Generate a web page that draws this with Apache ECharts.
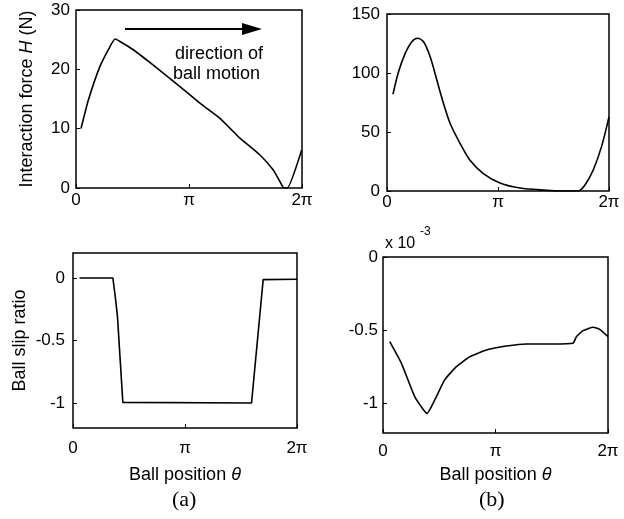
<!DOCTYPE html>
<html>
<head>
<meta charset="utf-8">
<script src="https://cdn.jsdelivr.net/npm/echarts@6/dist/echarts.min.js"></script>
<style>html,body{margin:0;padding:0;background:#fff;}#c{width:624px;height:519px;}</style>
</head>
<body>
<div id="c"></div>
<script>
// x positions are in units of pi (0..2 => 0..2π)
const xTickLabels = {0: '0', 1: 'π', 2: '2π'};

const forceA_x = [0.044,0.109,0.212,0.30,0.345,0.389,0.507,0.684,0.92,1.097,1.274,1.451,1.628,1.746,1.805,1.84,1.87,1.997];
const forceA_y = [10,14.8,20.5,23.8,25.1,24.7,23.3,20.7,17.1,14.3,11.75,8.4,5.56,3.03,1.06,0,0,6.4];

const forceB_x = [0.054,0.104,0.164,0.224,0.275,0.329,0.389,0.449,0.509,0.569,0.659,0.748,0.868,1.018,1.198,1.437,1.557,1.722,1.782,1.857,1.932,2.0];
const forceB_y = [82,101,116.6,126.5,129.4,126.5,113.8,94,74.2,57.2,40.2,26,14.8,6.8,2.5,0.6,0,0,4.8,17.6,37.4,62.8];

const slipA_x = [0.058,0.356,0.377,0.397,0.445,1.594,1.698,2.0];
const slipA_y = [0,0,-0.147,-0.307,-0.995,-1.0,-0.013,-0.01];

const slipB_x = [0.06,0.164,0.282,0.391,0.46,0.548,0.652,0.771,0.919,1.097,1.275,1.511,1.689,1.719,1.778,1.867,1.926,2.0];
const slipB_y = [-0.577,-0.725,-0.952,-1.066,-0.975,-0.838,-0.748,-0.68,-0.634,-0.607,-0.593,-0.593,-0.588,-0.543,-0.502,-0.479,-0.493,-0.543];

const yTicksForceA = [0,10,20,30];
const yTicksForceB = [0,50,100,150];
const yTicksSlip = [-1,-0.5,0];

const SANS = 'Liberation Sans, Arial, Helvetica, sans-serif';
const SERIF = 'Liberation Serif, Times New Roman, serif';

function pairs(xs, ys){ return xs.map((x,i)=>[x, ys[i]]); }

const grids = [
  {left:76, top:10, width:226, height:178},
  {left:387, top:14, width:222, height:177},
  {left:73, top:253, width:224, height:175},
  {left:383, top:257, width:225, height:176}
].map(g => Object.assign(g, {show:true, borderColor:'#000', borderWidth:1.5, backgroundColor:'transparent'}));

const xMargins = [4, 3, 12, 10];
const xAxes = [0,1,2,3].map(i => ({
  type:'value', gridIndex:i, min:0, max:2, interval:1,
  axisLine:{show:false, onZero:false},
  axisTick:{show:true, inside:true, length:4, lineStyle:{color:'#000'}},
  splitLine:{show:false},
  axisLabel:{color:'#000', fontSize:17, fontFamily:SANS, margin:xMargins[i],
    formatter: v => xTickLabels[Math.round(v)] !== undefined ? xTickLabels[Math.round(v)] : ''},
  name: i>=2 ? '{a|Ball position }{i|θ}' : '',
  nameLocation:'middle', nameGap: i===2 ? 38 : 33,
  nameTextStyle:{rich:{a:{fontSize:18, fontFamily:SANS, color:'#000'}, i:{fontSize:18, fontFamily:SANS, fontStyle:'italic', color:'#000'}}}
}));

const yCfg = [
  {min:0, max:30, ticks:yTicksForceA, margin:6, name:'{a|Interaction force }{i|H}{a| (N)}', gap:40},
  {min:0, max:150, ticks:yTicksForceB, margin:7, name:'', gap:40},
  {min:-1.2, max:0.2, ticks:yTicksSlip, margin:8, name:'{a|Ball slip ratio}', gap:44},
  {min:-1.2, max:0, ticks:yTicksSlip, margin:5, name:'', gap:40}
];
const yAxes = yCfg.map((c,i) => ({
  type:'value', gridIndex:i, min:c.min, max:c.max,
  axisLine:{show:false, onZero:false},
  axisTick:{show:true, inside:true, length:4, customValues:c.ticks, lineStyle:{color:'#000'}},
  splitLine:{show:false},
  axisLabel:{color:'#000', fontSize:17, fontFamily:SANS, margin:c.margin, customValues:c.ticks,
    formatter: v => String(v)},
  name:c.name, nameLocation:'middle', nameGap:c.gap, nameRotate:90,
  nameTextStyle:{rich:{a:{fontSize:18, fontFamily:SANS, color:'#000'}, i:{fontSize:18, fontFamily:SANS, fontStyle:'italic', color:'#000'}}}
}));

const seriesData = [pairs(forceA_x, forceA_y), pairs(forceB_x, forceB_y), pairs(slipA_x, slipA_y), pairs(slipB_x, slipB_y)];
const smooth = [0.15, 0.3, false, 0.15];
const series = seriesData.map((d,i) => ({
  type:'line', xAxisIndex:i, yAxisIndex:i, data:d, showSymbol:false, smooth:smooth[i],
  lineStyle:{color:'#000', width:1.6}, animation:false, silent:true
}));

const chart = echarts.init(document.getElementById('c'), null, {renderer:'canvas'});
chart.setOption({
  animation:false,
  backgroundColor:'#fff',
  grid:grids, xAxis:xAxes, yAxis:yAxes, series:series,
  graphic:[
    {type:'line', shape:{x1:125, y1:29, x2:246, y2:29}, style:{stroke:'#000', lineWidth:2.2}},
    {type:'polygon', shape:{points:[[242,23],[262,29],[242,35]]}, style:{fill:'#000'}},
    {type:'text', left:175, top:45, style:{text:'direction of', font:'18px ' + SANS, fill:'#000'}},
    {type:'text', left:173, top:65, style:{text:'ball motion', font:'18px ' + SANS, fill:'#000'}},
    {type:'text', left:385, top:236, style:{text:'x 10', font:'16px ' + SANS, fill:'#000'}},
    {type:'text', left:420, top:226, style:{text:'-3', font:'12px ' + SANS, fill:'#000'}},
    {type:'text', left:172, top:489, style:{text:'(a)', font:'22px ' + SERIF, fill:'#000'}},
    {type:'text', left:479, top:489, style:{text:'(b)', font:'22px ' + SERIF, fill:'#000'}}
  ]
});
</script>
</body>
</html>
